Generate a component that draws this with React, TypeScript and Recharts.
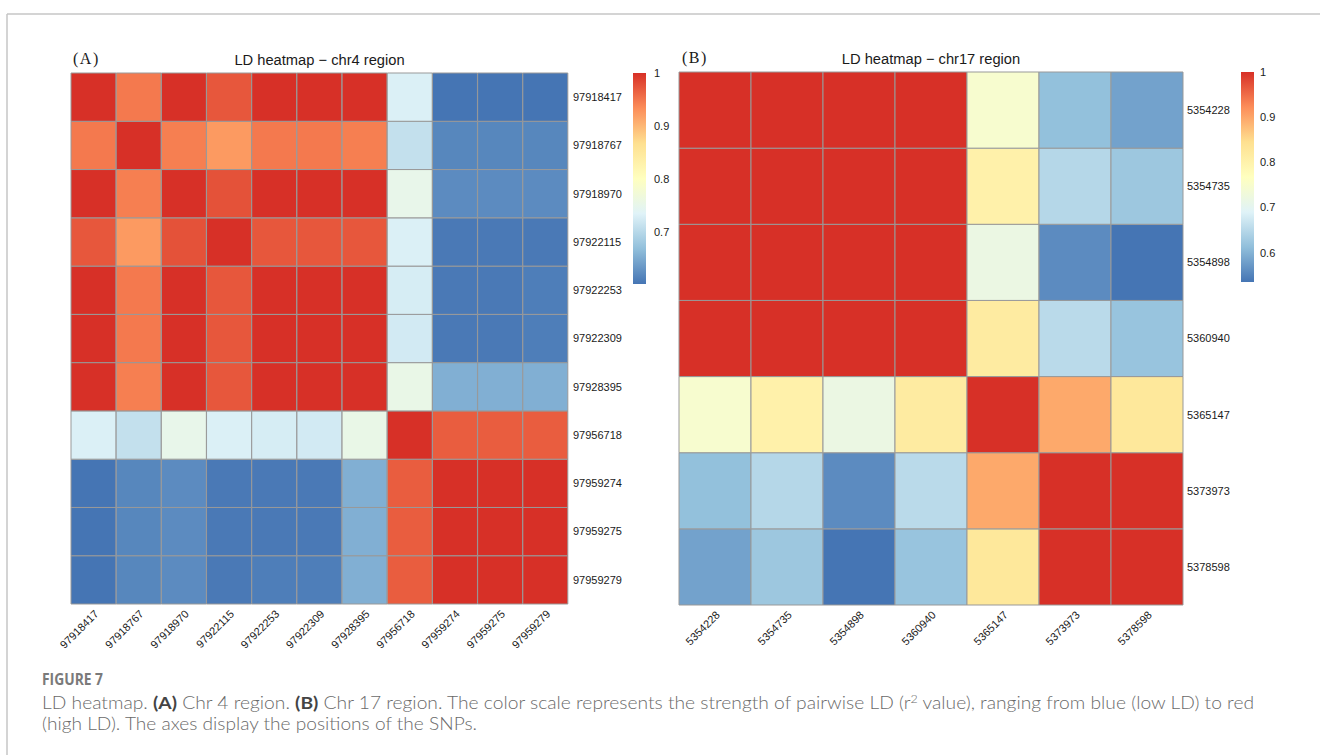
import React from 'react'
import { BarChart, Bar, XAxis, YAxis, Cell } from 'recharts'

// ---------------------------------------------------------------------------
// Data (r² values)
// ---------------------------------------------------------------------------

const chr4Snps = [
  '97918417', '97918767', '97918970', '97922115', '97922253', '97922309',
  '97928395', '97956718', '97959274', '97959275', '97959279',
]

const chr4Ld = [
  [1, 0.945, 1, 0.972, 1, 1, 1, 0.733, 0.603, 0.604, 0.603],
  [0.945, 1, 0.944, 0.921, 0.946, 0.946, 0.943, 0.714, 0.619, 0.619, 0.62],
  [1, 0.944, 1, 0.975, 1, 1, 1, 0.75, 0.624, 0.624, 0.623],
  [0.972, 0.921, 0.975, 1, 0.97, 0.97, 0.972, 0.733, 0.609, 0.609, 0.61],
  [1, 0.946, 1, 0.97, 1, 1, 1, 0.727, 0.61, 0.61, 0.613],
  [1, 0.946, 1, 0.97, 1, 1, 1, 0.725, 0.61, 0.61, 0.612],
  [1, 0.943, 1, 0.972, 1, 1, 1, 0.757, 0.656, 0.656, 0.656],
  [0.733, 0.714, 0.75, 0.733, 0.727, 0.725, 0.757, 1, 0.968, 0.968, 0.967],
  [0.603, 0.619, 0.624, 0.609, 0.61, 0.61, 0.656, 0.968, 1, 1, 1],
  [0.604, 0.619, 0.624, 0.609, 0.61, 0.61, 0.656, 0.968, 1, 1, 1],
  [0.603, 0.62, 0.623, 0.61, 0.613, 0.612, 0.656, 0.967, 1, 1, 1],
]

const chr17Snps = ['5354228', '5354735', '5354898', '5360940', '5365147', '5373973', '5378598']

const chr17Ld = [
  [1, 1, 1, 1, 0.747, 0.615, 0.584],
  [1, 1, 1, 1, 0.802, 0.651, 0.628],
  [1, 1, 1, 1, 0.717, 0.561, 0.535],
  [1, 1, 1, 1, 0.818, 0.652, 0.62],
  [0.747, 0.802, 0.717, 0.818, 1, 0.896, 0.825],
  [0.615, 0.651, 0.561, 0.652, 0.896, 1, 1],
  [0.584, 0.628, 0.535, 0.62, 0.825, 1, 1],
]

const chr4KeyTicks = [0.7, 0.8, 0.9, 1]
const chr17KeyTicks = [0.6, 0.7, 0.8, 0.9, 1]

// reversed RdYlBu (7), the pheatmap default ramp
const RAMP = ['#4575B4', '#91BFDB', '#E0F3F8', '#FFFFBF', '#FEE090', '#FC8D59', '#D73027']

const FONT = '"Liberation Sans", Arial, Helvetica, sans-serif'
const SERIF = '"Liberation Serif", "DejaVu Serif", serif'
const CAPTION_FONT = 'Lato, "Open Sans", sans-serif'
const INK = '#1a1a1a'

// ---------------------------------------------------------------------------
// Colour helpers
// ---------------------------------------------------------------------------

const hexRgb = (h: string) => [1, 3, 5].map((i) => parseInt(h.slice(i, i + 2), 16))

function rampColor(t: number): string {
  const p = Math.max(0, Math.min(1, t)) * (RAMP.length - 1)
  const i = Math.min(RAMP.length - 2, Math.floor(p))
  const f = p - i
  const a = hexRgb(RAMP[i])
  const b = hexRgb(RAMP[i + 1])
  const c = a.map((v, k) => Math.round(v + (b[k] - v) * f))
  return `rgb(${c[0]},${c[1]},${c[2]})`
}

// 100 colour bins between the data min and max, like pheatmap
function binColor(v: number, lo: number, hi: number): string {
  const k = Math.min(99, Math.floor(((v - lo) / (hi - lo)) * 100))
  return rampColor(k / 99)
}

// ---------------------------------------------------------------------------
// Pieces
// ---------------------------------------------------------------------------

function SlantTick(props: any) {
  const { x, y, payload } = props
  const ty = y + 5
  return (
    <text
      x={x}
      y={ty}
      transform={`rotate(-45 ${x} ${ty})`}
      textAnchor="end"
      dominantBaseline="hanging"
      fontSize={11}
      fontFamily={FONT}
      fill={INK}
    >
      {payload.value}
    </text>
  )
}

interface HeatmapProps {
  snps: string[]
  ld: number[][]
  left: number
  width: number
  height: number
  margin: { top: number; left: number; right: number; bottom: number }
  labelGap: number
}

function LdHeatmap({ snps, ld, left, width, height, margin, labelGap }: HeatmapProps) {
  const n = snps.length
  const all = ld.flat()
  const lo = Math.min(...all)
  const hi = Math.max(...all)

  // one category per column, each row is a unit-high stacked segment
  const data = snps.map((snp) => {
    const d: Record<string, string | number> = { snp }
    snps.forEach((_, i) => {
      d[`row${i}`] = 1
    })
    return d
  })
  const stackOrder = snps.map((_, k) => n - 1 - k) // bottom row first
  const rowTicks = snps.map((_, k) => k + 0.5)

  return (
    <div style={{ position: 'absolute', left, top: 0 }}>
      <BarChart width={width} height={height} data={data} margin={margin} barCategoryGap={0} barGap={0}>
        <XAxis
          dataKey="snp"
          interval={0}
          tickLine={false}
          axisLine={false}
          tickSize={0}
          tickMargin={0}
          height={70}
          tick={<SlantTick />}
        />
        <YAxis
          orientation="right"
          type="number"
          domain={[0, n]}
          ticks={rowTicks}
          interval={0}
          tickFormatter={(v: number) => snps[n - 1 - Math.floor(v)]}
          tickLine={false}
          axisLine={false}
          tickSize={0}
          tickMargin={labelGap}
          width={60}
          tick={{ fontSize: 11, fill: INK, fontFamily: FONT }}
        />
        {stackOrder.map((r) => (
          <Bar key={r} dataKey={`row${r}`} stackId="ld" isAnimationActive={false}>
            {snps.map((_, j) => (
              <Cell key={j} fill={binColor(ld[r][j], lo, hi)} stroke="#999999" strokeWidth={1} />
            ))}
          </Bar>
        ))}
      </BarChart>
    </div>
  )
}

interface KeyProps {
  ld: number[][]
  ticks: number[]
  gradientId: string
  left: number
  width: number
  height: number
  margin: { top: number; left: number; right: number; bottom: number }
  gap: number
  axisWidth: number
}

function ColorKey({ ld, ticks, gradientId, left, width, height, margin, gap, axisWidth }: KeyProps) {
  const all = ld.flat()
  const lo = Math.min(...all)
  const hi = Math.max(...all)
  const data = [{ key: 'r2', span: [lo, hi] }]
  return (
    <div style={{ position: 'absolute', left, top: 60 }}>
      <BarChart width={width} height={height} data={data} margin={margin} barCategoryGap={0}>
        <XAxis dataKey="key" hide />
        <YAxis
          orientation="right"
          type="number"
          domain={[lo, hi]}
          ticks={ticks}
          interval={0}
          allowDataOverflow
          tickFormatter={(v: number) => String(+v.toFixed(2))}
          tickLine={false}
          axisLine={false}
          tickSize={0}
          tickMargin={gap}
          width={axisWidth}
          tick={{ fontSize: 11, fill: INK, fontFamily: FONT }}
        />
        <Bar dataKey="span" fill={`url(#${gradientId})`} isAnimationActive={false} />
      </BarChart>
    </div>
  )
}

// ---------------------------------------------------------------------------
// Figure
// ---------------------------------------------------------------------------

export default function App() {
  return (
    <div
      style={{
        position: 'absolute',
        left: 0,
        top: 0,
        width: 1320,
        height: 755,
        background: '#ffffff',
        overflow: 'hidden',
      }}
    >
      <svg width={0} height={0} style={{ position: 'absolute' }}>
        <defs>
          {['keyA', 'keyB'].map((id) => (
            <linearGradient key={id} id={id} x1="0" y1="1" x2="0" y2="0">
              {RAMP.map((c, i) => (
                <stop key={i} offset={`${(i / (RAMP.length - 1)) * 100}%`} stopColor={c} />
              ))}
            </linearGradient>
          ))}
        </defs>
      </svg>

      <svg width={1320} height={755} style={{ position: 'absolute', left: 0, top: 0 }}>
        <line x1={7} y1={14} x2={1320} y2={14} stroke="#c6c6c6" strokeWidth={1.5} />
        <line x1={7} y1={14} x2={7} y2={755} stroke="#c6c6c6" strokeWidth={1.5} />

        <text x={73} y={64} fontFamily={SERIF} fontSize={16} letterSpacing={1.5} fill={INK}>
          (A)
        </text>
        <text x={319.5} y={65} textAnchor="middle" fontFamily={FONT} fontSize={14.7} fill={INK}>
          LD heatmap {'\u2212'} chr4 region
        </text>
        <text x={682} y={63} fontFamily={SERIF} fontSize={16} letterSpacing={1.5} fill={INK}>
          (B)
        </text>
        <text x={931} y={64} textAnchor="middle" fontFamily={FONT} fontSize={14.7} fill={INK}>
          LD heatmap {'\u2212'} chr17 region
        </text>

        <text
          x={42}
          y={685}
          fontFamily='"Open Sans", sans-serif'
          fontWeight={700}
          fontSize={16}
          fill="#7a7a7a"
          textLength={61}
          lengthAdjust="spacingAndGlyphs"
        >
          FIGURE 7
        </text>
        <text
          x={42}
          y={709}
          fontFamily={CAPTION_FONT}
          fontWeight={300}
          fontSize={17}
          fill="#6a6a6a"
          textLength={1212}
          lengthAdjust="spacingAndGlyphs"
        >
          LD heatmap. <tspan fontWeight={700} fill="#444">(A)</tspan> Chr 4 region.{' '}
          <tspan fontWeight={700} fill="#444">(B)</tspan> Chr 17 region. The color scale represents the strength of
          pairwise LD (r<tspan dy={-6} fontSize={11}>2</tspan>
          <tspan dy={6}> value), ranging from blue (low LD) to red</tspan>
        </text>
        <text
          x={42}
          y={730}
          fontFamily={CAPTION_FONT}
          fontWeight={300}
          fontSize={17}
          fill="#6a6a6a"
          textLength={435}
          lengthAdjust="spacingAndGlyphs"
        >
          (high LD). The axes display the positions of the SNPs.
        </text>
      </svg>

      <LdHeatmap
        snps={chr4Snps}
        ld={chr4Ld}
        left={0}
        width={700}
        height={690}
        margin={{ top: 73, left: 71, right: 72, bottom: 16 }}
        labelGap={5}
      />
      <LdHeatmap
        snps={chr17Snps}
        ld={chr17Ld}
        left={600}
        width={700}
        height={690}
        margin={{ top: 72, left: 79, right: 57, bottom: 15 }}
        labelGap={4}
      />

      <ColorKey
        ld={chr4Ld}
        ticks={chr4KeyTicks}
        gradientId="keyA"
        left={620}
        width={60}
        height={240}
        margin={{ top: 13, left: 13, right: 4, bottom: 16 }}
        gap={8}
        axisWidth={30}
      />
      <ColorKey
        ld={chr17Ld}
        ticks={chr17KeyTicks}
        gradientId="keyB"
        left={1228}
        width={80}
        height={240}
        margin={{ top: 12, left: 13, right: 14, bottom: 18 }}
        gap={6}
        axisWidth={40}
      />
    </div>
  )
}
